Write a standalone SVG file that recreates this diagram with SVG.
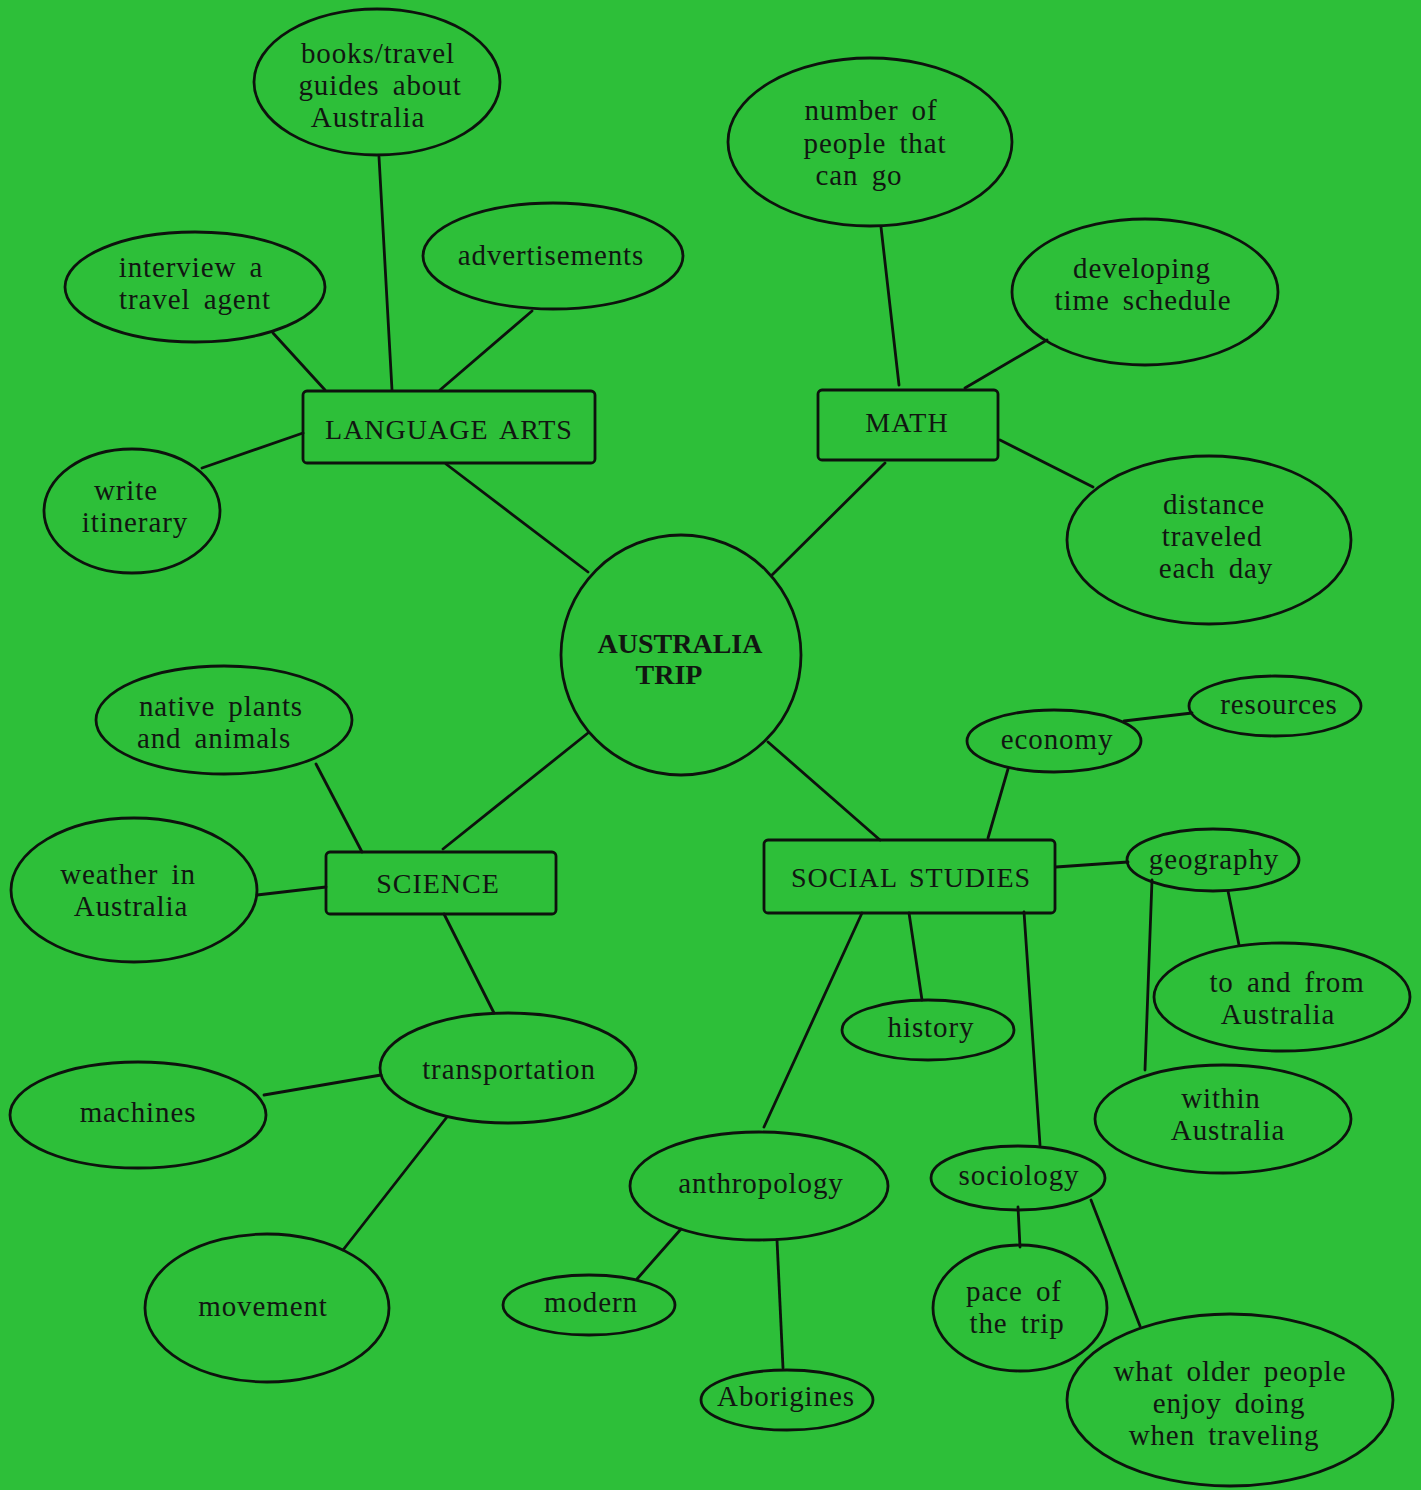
<svg xmlns="http://www.w3.org/2000/svg" width="1421" height="1490" viewBox="0 0 1421 1490">
<style>
.bg{fill:#2dbf39}
.n ellipse,.n rect,.n circle{fill:none;stroke:#0d120d;stroke-width:2.8}
.c line{stroke:#0d120d;stroke-width:2.8;stroke-linecap:round}
text{font-family:"Liberation Serif","Times New Roman",serif;font-size:29px;fill:#111611;text-anchor:middle;letter-spacing:0.9px;word-spacing:5px}
.k{font-size:28px;letter-spacing:1px;word-spacing:4px}
.b{font-size:28px;font-weight:bold;letter-spacing:0;word-spacing:0}
</style>
<rect class="bg" x="0" y="0" width="1421" height="1490"/>
<g class="c" id="connectors">
<line x1="379" y1="157" x2="392" y2="390"/>
<line x1="273" y1="333" x2="325" y2="390"/>
<line x1="532" y1="311" x2="440" y2="390"/>
<line x1="202" y1="468" x2="303" y2="433"/>
<line x1="446" y1="464" x2="588" y2="572"/>
<line x1="772" y1="575" x2="885" y2="463"/>
<line x1="881" y1="227" x2="899" y2="385"/>
<line x1="1047" y1="340" x2="965" y2="388"/>
<line x1="1000" y1="440" x2="1093" y2="487"/>
<line x1="588" y1="733" x2="443" y2="849"/>
<line x1="768" y1="742" x2="880" y2="840"/>
<line x1="316" y1="764" x2="362" y2="852"/>
<line x1="257" y1="895" x2="326" y2="887"/>
<line x1="444" y1="914" x2="494" y2="1013"/>
<line x1="264" y1="1095" x2="381" y2="1075"/>
<line x1="447" y1="1117" x2="343" y2="1250"/>
<line x1="1008" y1="769" x2="988" y2="838"/>
<line x1="1124" y1="721" x2="1192" y2="713"/>
<line x1="1056" y1="867" x2="1128" y2="862"/>
<line x1="1228" y1="891" x2="1239" y2="945"/>
<line x1="1152" y1="880" x2="1145" y2="1070"/>
<line x1="909" y1="913" x2="922" y2="1000"/>
<line x1="862" y1="913" x2="764" y2="1127"/>
<line x1="1024" y1="912" x2="1040" y2="1145"/>
<line x1="681" y1="1229" x2="637" y2="1279"/>
<line x1="777" y1="1240" x2="783" y2="1368"/>
<line x1="1018" y1="1207" x2="1020" y2="1247"/>
<line x1="1091" y1="1200" x2="1140" y2="1326"/>
</g>
<g class="n" id="center"><circle cx="681" cy="655" r="120"/><text class="b" x="680" y="653">AUSTRALIA</text><text class="b" x="669" y="684">TRIP</text></g>
<g class="n" id="language-arts"><rect x="303" y="391" width="292" height="72" rx="4"/><text class="k" x="449" y="439">LANGUAGE ARTS</text></g>
<g class="n" id="books"><ellipse cx="377" cy="82" rx="123" ry="73"/><text x="378" y="63">books/travel</text><text x="380" y="95">guides about</text><text x="368" y="127">Australia</text></g>
<g class="n" id="advertisements"><ellipse cx="553" cy="256" rx="130" ry="53"/><text x="551" y="265">advertisements</text></g>
<g class="n" id="interview"><ellipse cx="195" cy="287" rx="130" ry="55"/><text x="191" y="277">interview a</text><text x="195" y="309">travel agent</text></g>
<g class="n" id="write"><ellipse cx="132" cy="511" rx="88" ry="62"/><text x="126" y="500">write</text><text x="135" y="532">itinerary</text></g>
<g class="n" id="math"><rect x="818" y="390" width="180" height="70" rx="4"/><text class="k" x="907" y="432">MATH</text></g>
<g class="n" id="number"><ellipse cx="870" cy="142" rx="142" ry="84"/><text x="871" y="120">number of</text><text x="875" y="153">people that</text><text x="859" y="185">can go</text></g>
<g class="n" id="developing"><ellipse cx="1145" cy="292" rx="133" ry="73"/><text x="1142" y="278">developing</text><text x="1143" y="310">time schedule</text></g>
<g class="n" id="distance"><ellipse cx="1209" cy="540" rx="142" ry="84"/><text x="1214" y="514">distance</text><text x="1212" y="546">traveled</text><text x="1216" y="578">each day</text></g>
<g class="n" id="science"><rect x="326" y="852" width="230" height="62" rx="4"/><text class="k" x="438" y="893">SCIENCE</text></g>
<g class="n" id="native"><ellipse cx="224" cy="720" rx="128" ry="54"/><text x="221" y="716">native plants</text><text x="214" y="748">and animals</text></g>
<g class="n" id="weather"><ellipse cx="134" cy="890" rx="123" ry="72"/><text x="128" y="884">weather in</text><text x="131" y="916">Australia</text></g>
<g class="n" id="transportation"><ellipse cx="508" cy="1068" rx="128" ry="55"/><text x="509" y="1079">transportation</text></g>
<g class="n" id="machines"><ellipse cx="138" cy="1115" rx="128" ry="53"/><text x="138" y="1122">machines</text></g>
<g class="n" id="movement"><ellipse cx="267" cy="1308" rx="122" ry="74"/><text x="263" y="1316">movement</text></g>
<g class="n" id="social-studies"><rect x="764" y="840" width="291" height="73" rx="4"/><text class="k" x="911" y="887">SOCIAL STUDIES</text></g>
<g class="n" id="economy"><ellipse cx="1054" cy="741" rx="87" ry="31"/><text x="1057" y="749">economy</text></g>
<g class="n" id="resources"><ellipse cx="1275" cy="706" rx="86" ry="30"/><text x="1279" y="714">resources</text></g>
<g class="n" id="geography"><ellipse cx="1213" cy="860" rx="86" ry="31"/><text x="1214" y="869">geography</text></g>
<g class="n" id="to-and-from"><ellipse cx="1282" cy="997" rx="128" ry="54"/><text x="1287" y="992">to and from</text><text x="1278" y="1024">Australia</text></g>
<g class="n" id="within"><ellipse cx="1223" cy="1119" rx="128" ry="54"/><text x="1221" y="1108">within</text><text x="1228" y="1140">Australia</text></g>
<g class="n" id="history"><ellipse cx="928" cy="1030" rx="86" ry="30"/><text x="931" y="1037">history</text></g>
<g class="n" id="anthropology"><ellipse cx="759" cy="1186" rx="129" ry="54"/><text x="761" y="1193">anthropology</text></g>
<g class="n" id="sociology"><ellipse cx="1018" cy="1178" rx="87" ry="32"/><text x="1019" y="1185">sociology</text></g>
<g class="n" id="modern"><ellipse cx="589" cy="1305" rx="86" ry="30"/><text x="591" y="1312">modern</text></g>
<g class="n" id="aborigines"><ellipse cx="787" cy="1400" rx="86" ry="30"/><text x="786" y="1406">Aborigines</text></g>
<g class="n" id="pace"><ellipse cx="1020" cy="1308" rx="87" ry="63"/><text x="1014" y="1301">pace of</text><text x="1017" y="1333">the trip</text></g>
<g class="n" id="older"><ellipse cx="1230" cy="1400" rx="163" ry="86"/><text x="1230" y="1381">what older people</text><text x="1229" y="1413">enjoy doing</text><text x="1224" y="1445">when traveling</text></g>
</svg>
